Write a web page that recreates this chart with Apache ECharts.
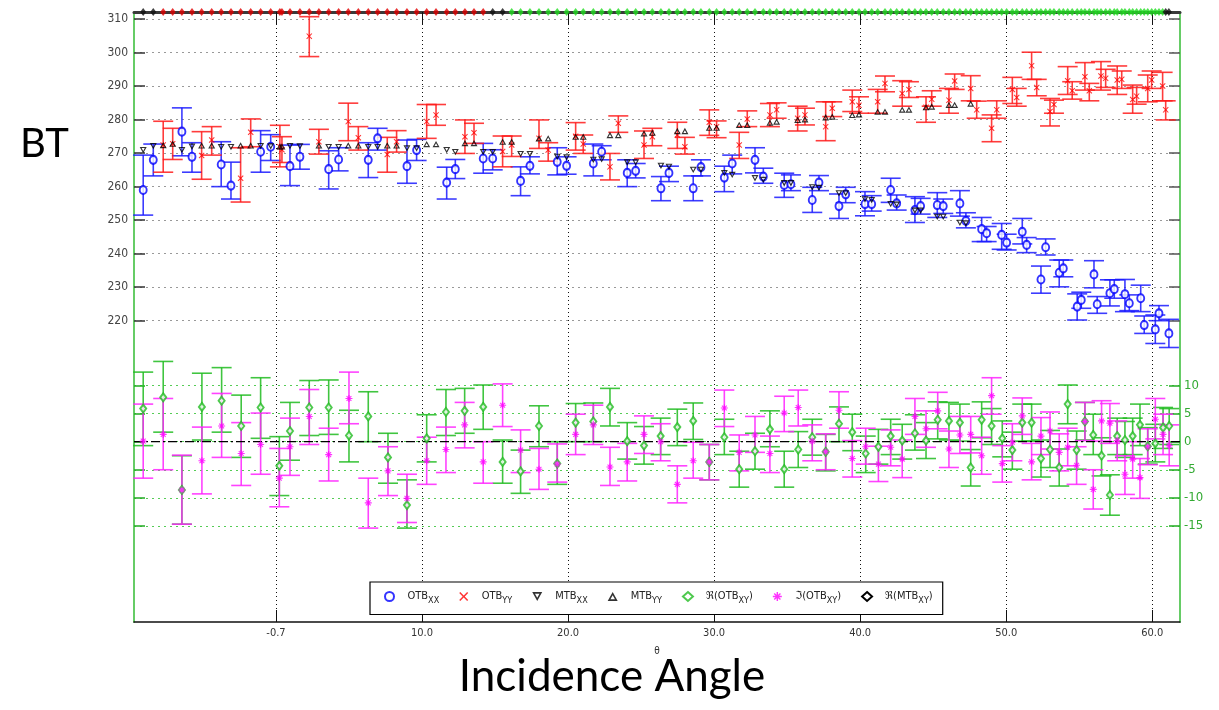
<!DOCTYPE html>
<html>
<head>
<meta charset="utf-8">
<title>BT vs Incidence Angle</title>
<script src="https://cdn.jsdelivr.net/npm/echarts@6.0.0/dist/echarts.min.js"></script>
<style>
  html, body { margin: 0; padding: 0; background: #fff; }
  #main { width: 1219px; height: 710px; }
</style>
</head>
<body>
<div id="main"></div>
<script>
// axis ranges and ticks
var thetaRange = [-9.72, 61.9];
var btRange = [130.1, 312.1];
var xyRange = [-32.13, 76.57];
var xTicks = [0, 10, 20, 30, 40, 50, 60];
var xTickLabels = ['-0.7', '10.0', '20.0', '30.0', '40.0', '50.0', '60.0'];
var btTicks = [220, 230, 240, 250, 260, 270, 280, 290, 300, 310];
var xyTicks = [-15, -10, -5, 0, 5, 10];

// [theta, value, low, high]
var otbXX = [
  [-9.09,259.0,251.5,269.4],[-8.40,268.0,263.2,272.7],[-6.44,276.4,269.2,283.5],[-5.75,268.9,264.3,273.1],
  [-3.75,266.6,260.0,273.4],[-3.08,260.3,256.3,267.3],[-1.05,270.4,264.3,276.7],[-0.36,271.9,267.8,275.5],
  [0.96,266.1,260.3,272.4],[1.64,268.9,265.2,272.6],[3.61,265.2,259.3,270.7],[4.29,268.1,264.7,271.6],
  [6.32,268.0,262.7,273.1],[6.96,274.4,270.9,277.4],[8.97,266.1,261.0,273.9],[9.63,270.9,267.8,274.1],
  [11.69,261.2,256.3,265.8],[12.28,265.2,262.4,268.1],[14.19,268.4,264.0,272.9],[14.84,268.4,265.0,271.0],
  [16.75,261.7,257.3,265.9],[17.39,266.2,263.8,268.9],[19.26,267.4,263.5,271.6],[19.90,266.2,263.7,268.9],
  [21.73,266.9,263.2,272.7],[22.30,270.4,268.0,272.2],[24.05,264.1,260.0,268.0],[24.63,264.7,262.6,266.9],
  [26.36,259.5,255.8,263.0],[26.91,264.1,261.5,266.1],[28.57,259.5,255.8,263.2],[29.10,265.8,263.2,268.0],
  [30.70,262.7,258.5,266.1],[31.24,266.9,263.8,269.4],[32.80,268.0,264.1,271.6],[33.37,263.0,261.0,265.5],
  [34.80,260.5,256.8,264.0],[35.26,260.7,258.8,263.5],[36.72,256.0,252.3,259.8],[37.18,261.2,258.8,263.3],
  [38.55,254.2,250.5,257.8],[39.01,257.7,255.2,259.8],[40.33,254.8,251.3,258.5],[40.79,254.8,252.7,257.3],
  [42.09,259.0,255.3,262.5],[42.50,255.0,253.0,257.5],[43.75,253.0,249.3,257.0],[44.14,254.2,251.8,256.5],
  [45.28,254.5,250.8,258.2],[45.69,254.2,252.0,256.3],[46.83,255.0,251.2,258.8],[47.24,249.8,247.7,252.2],
  [48.32,247.3,243.6,250.8],[48.66,246.1,243.6,248.1],[49.69,245.6,241.3,249.0],[50.03,243.3,241.1,245.8],
  [51.10,246.5,242.9,250.5],[51.40,242.6,240.3,244.8],[52.38,232.3,228.2,236.3],[52.70,241.9,239.6,244.4],
  [53.63,234.3,230.1,238.1],[53.91,235.6,233.1,238.1],[54.86,224.2,220.2,228.0],[55.14,226.2,223.7,228.5],
  [56.01,233.8,229.8,237.9],[56.23,224.9,222.2,227.2],[57.10,228.2,224.4,232.2],[57.40,229.4,226.7,232.2],
  [58.13,227.9,222.7,232.3],[58.43,225.2,223.0,227.7],[59.21,226.7,222.7,230.6],[59.45,218.7,216.2,221.4],
  [60.21,217.4,213.2,221.7],[60.46,222.2,220.0,224.5],[61.14,216.2,212.0,220.4]
];

var otbYY = [
  [-7.72,272.4,264.3,279.5],[-7.07,272.8,268.1,277.4],[-5.09,269.3,262.2,276.4],[-4.40,273.9,269.4,277.9],
  [-2.42,262.5,255.4,271.6],[-1.73,276.2,271.9,280.2],[0.27,271.9,265.9,278.3],[0.41,271.0,267.2,274.9],
  [2.28,304.9,298.8,310.7],[2.94,273.4,269.7,277.1],[4.95,279.4,273.7,284.9],[5.64,274.6,270.9,277.9],
  [7.62,269.6,264.3,274.7],[8.26,273.4,270.3,276.7],[10.32,279.4,274.4,284.5],[10.96,281.4,278.3,284.5],
  [12.94,274.9,269.9,279.9],[13.56,276.1,272.9,278.9],[15.52,270.5,265.9,275.1],[16.14,272.4,269.0,275.1],
  [18.01,274.4,271.4,279.9],[18.64,270.9,267.6,273.1],[20.52,275.0,270.9,279.1],[21.04,272.7,269.9,275.4],
  [22.87,265.9,262.0,269.9],[23.44,278.9,276.2,281.1],[25.20,272.4,268.4,276.6],[25.77,274.9,272.2,277.4],
  [27.48,275.4,271.4,279.2],[28.00,271.9,269.7,274.7],[29.67,279.2,275.3,282.9],[30.17,277.9,274.6,279.6],
  [31.72,272.4,268.4,276.2],[32.27,280.2,277.9,282.6],[33.82,281.4,277.9,284.8],[34.28,282.9,280.4,285.0],
  [35.72,280.4,276.6,284.0],[36.22,281.4,278.4,283.4],[37.64,277.9,273.7,285.3],[38.09,283.4,280.9,285.3],
  [39.46,285.3,282.4,288.8],[39.92,284.3,281.9,286.8],[41.20,285.3,281.9,289.0],[41.70,290.8,288.3,293.0],
  [42.88,287.8,284.0,291.6],[43.34,289.0,286.6,291.3],[44.51,283.7,279.2,286.8],[44.90,286.1,284.0,288.6],
  [46.08,285.8,281.9,289.3],[46.47,291.5,289.0,293.6],[47.57,289.3,285.6,293.1],[47.98,282.9,280.4,285.5],
  [49.00,277.4,273.4,281.4],[49.35,282.9,280.4,285.6],[50.42,289.0,284.8,292.6],[50.72,286.6,284.0,289.3],
  [51.74,296.1,292.0,300.1],[52.09,289.6,287.1,292.0],[53.00,282.4,278.1,286.3],[53.27,284.5,281.9,285.8],
  [54.21,291.6,287.5,295.8],[54.52,288.6,286.1,291.3],[55.39,292.8,288.8,297.0],[55.69,288.6,285.6,290.8],
  [56.49,293.0,288.8,297.3],[56.81,292.3,289.6,295.0],[57.60,291.8,287.5,296.0],[57.91,292.0,289.3,294.5],
  [58.66,286.0,281.9,290.3],[58.93,287.0,284.6,289.6],[59.69,289.3,285.3,293.3],[59.96,291.8,289.3,294.5],
  [60.71,290.0,285.6,294.1],[60.92,282.9,279.9,285.6]
];

// [theta, value]
var mtbXX = [
  [-9.09,270.9],[-8.40,272.1],[-6.44,270.9],[-5.75,271.9],[-3.75,271.8],[-3.08,271.8],[-1.05,272.1],[-0.36,272.0],
  [0.96,272.1],[1.64,272.0],[3.61,271.8],[4.29,271.8],[6.32,271.8],[6.96,271.8],[8.97,271.4],[9.63,271.4],
  [11.69,270.9],[12.28,270.3],[14.19,270.3],[14.84,270.3],[16.75,269.7],[17.39,269.7],[19.26,268.9],[19.90,268.7],
  [21.73,268.0],[22.30,268.1],[24.05,267.2],[24.63,267.2],[26.36,266.2],[26.91,265.9],[28.57,265.0],[29.10,265.0],
  [30.70,264.0],[31.24,263.5],[32.80,262.5],[33.37,262.0],[34.80,261.0],[35.26,261.0],[36.72,259.8],[37.18,259.6],
  [38.55,258.0],[39.01,258.0],[40.33,256.2],[40.79,256.0],[42.09,254.8],[42.50,254.6],[43.75,252.8],[44.14,252.8],
  [45.28,251.0],[45.69,251.0],[46.83,249.2],[47.24,249.0]
];

var mtbYY = [
  [-7.72,272.4],[-7.07,272.8],[-5.09,272.3],[-4.40,272.3],[-2.42,272.3],[-1.73,272.3],[0.27,272.0],[0.41,272.0],
  [2.94,272.3],[4.95,272.3],[5.64,272.3],[7.62,272.3],[8.26,272.3],[10.32,272.7],[10.96,272.7],[12.94,273.0],
  [13.56,273.0],[15.52,273.4],[16.14,273.4],[18.01,274.4],[18.64,274.4],[20.52,274.9],[21.04,274.9],[22.87,275.4],
  [23.44,275.4],[25.20,275.9],[25.77,276.1],[27.48,276.6],[28.00,276.6],[29.67,277.6],[30.17,277.6],[31.72,278.4],
  [32.27,278.4],[33.82,279.1],[34.28,279.4],[35.72,279.9],[36.22,280.1],[37.64,280.7],[38.09,280.9],[39.46,281.4],
  [39.92,281.6],[41.20,282.4],[41.70,282.4],[42.88,283.0],[43.34,283.0],[44.51,283.7],[44.90,283.9],[46.08,284.4],
  [46.47,284.4],[47.57,284.8]
];

// cross-polar terms (right axis) [theta, value, low, high]
var reOtbXY = [
  [-9.09,5.9,-0.7,12.4],[-7.72,7.9,1.7,14.3],[-6.44,-8.6,-14.7,-2.5],[-5.07,6.2,0.3,12.2],[-3.72,7.3,1.7,13.2],
  [-2.38,2.8,-2.8,8.3],[-1.05,6.1,0.6,11.4],[0.23,-4.3,-9.6,0.9],[0.96,1.9,-3.3,7.0],[2.28,6.1,1.1,10.9],
  [3.61,6.1,1.3,11.0],[5.00,1.1,-3.6,5.6],[6.32,4.5,0.0,8.9],[7.67,-2.8,-7.4,1.5],[8.97,-11.3,-15.4,-6.8],
  [10.32,0.6,-3.6,4.8],[11.64,5.3,1.1,9.3],[12.92,5.5,1.5,9.5],[14.19,6.2,2.2,10.1],[15.52,-3.6,-7.4,0.3],
  [16.75,-5.3,-9.2,-1.5],[18.01,2.8,-0.9,6.4],[19.26,-3.9,-7.6,0.0],[20.52,3.4,0.0,6.8],[21.73,3.6,0.0,6.9],
  [22.87,6.2,2.8,9.5],[24.05,0.1,-3.1,3.4],[25.20,-0.7,-4.0,2.7],[26.34,1.0,-2.3,4.2],[27.48,2.6,-0.7,5.8],
  [28.57,3.7,0.4,6.9],[29.67,-3.6,-6.8,-0.5],[30.70,0.8,-2.3,4.0],[31.72,-4.9,-8.1,-1.7],[32.80,-1.7,-4.9,1.5],
  [33.82,2.2,-0.9,5.5],[34.80,-4.9,-8.1,-1.7],[35.76,-1.4,-4.6,1.8],[36.72,0.8,-2.4,4.0],[37.64,-1.8,-5.2,1.3],
  [38.55,3.2,0.0,6.2],[39.46,1.7,-1.6,4.9],[40.38,-2.1,-5.5,1.0],[41.25,-0.9,-4.0,2.2],[42.09,1.0,-2.3,4.0],
  [42.88,0.2,-3.1,3.1],[43.75,1.5,-1.5,4.8],[44.51,0.2,-3.0,3.4],[45.31,3.9,0.5,7.1],[46.08,3.7,0.3,7.0],
  [46.83,3.4,0.1,6.7],[47.57,-4.6,-7.9,-1.4],[48.32,3.9,0.7,7.1],[49.00,2.8,-0.5,5.9],[49.73,0.6,-2.7,3.7],
  [50.42,-1.5,-4.9,1.7],[51.10,3.4,0.1,6.7],[51.74,3.4,0.1,6.7],[52.38,-3.0,-6.3,0.3],[53.00,-1.4,-4.6,2.0],
  [53.63,-4.6,-7.9,-1.3],[54.21,6.7,3.2,10.1],[54.82,-1.5,-4.9,1.9],[55.39,3.6,0.3,7.0],[55.96,1.2,-2.3,4.9],
  [56.53,-2.5,-6.1,0.7],[57.10,-9.5,-13.1,-5.9],[57.60,1.0,-2.3,4.2],[58.13,0.3,-2.8,3.6],[58.66,1.0,-2.3,4.2],
  [59.16,3.0,-0.7,6.7],[59.69,-0.8,-4.0,2.5],[60.21,-0.3,-3.6,3.1],[60.74,2.5,-1.2,6.1],[61.16,2.8,-0.5,5.9]
];

var imOtbXY = [
  [-9.09,0.1,-6.5,6.7],[-7.72,1.3,-5.0,7.7],[-6.44,-8.6,-14.7,-2.4],[-5.07,-3.4,-9.3,2.6],[-3.72,2.8,-2.8,8.6],
  [-2.38,-2.1,-7.8,3.4],[-1.05,-0.5,-5.8,5.1],[0.23,-6.5,-11.6,-1.2],[0.96,-0.9,-6.0,4.2],[2.28,4.5,-0.5,9.3],
  [3.61,-2.3,-7.0,2.4],[5.00,7.7,3.2,12.4],[6.32,-10.9,-15.4,-6.5],[7.67,-5.2,-9.6,-0.9],[8.97,-10.1,-14.4,-5.8],
  [10.32,-3.4,-7.6,0.8],[11.64,-1.4,-5.5,2.6],[12.92,3.0,-1.1,7.0],[14.19,-3.6,-7.4,0.0],[15.52,6.5,2.7,10.3],
  [16.75,-1.5,-5.5,2.1],[18.01,-4.9,-8.5,-1.2],[19.26,-4.0,-7.2,-0.4],[20.52,1.3,-2.3,4.9],[21.73,3.0,-0.5,6.5],
  [22.87,-4.5,-7.8,-1.0],[24.05,-3.6,-7.0,-0.3],[25.20,1.3,-2.1,4.6],[26.34,0.0,-3.4,3.2],[27.48,-7.6,-10.9,-4.3],
  [28.57,-3.4,-6.5,-0.1],[29.67,-3.6,-6.8,-0.5],[30.70,6.0,2.7,9.2],[31.72,-1.9,-5.2,1.2],[32.80,1.2,-1.9,4.5],
  [33.82,-2.1,-5.5,1.0],[34.80,5.1,1.8,8.1],[35.76,6.1,2.8,9.2],[36.72,0.1,-3.4,3.0],[37.64,-1.8,-5.0,1.4],
  [38.55,5.6,2.4,8.9],[39.46,-3.0,-6.3,0.2],[40.38,-0.9,-4.0,2.4],[41.25,-4.0,-7.1,-0.8],[42.09,-1.0,-4.3,2.1],
  [42.88,-3.1,-6.4,0.3],[43.75,4.5,1.3,7.7],[44.51,2.3,-1.0,5.5],[45.31,5.5,2.3,8.8],[46.08,-1.3,-4.6,1.9],
  [46.83,1.2,-2.1,4.5],[47.57,1.3,-2.0,4.5],[48.32,-2.5,-5.8,0.8],[49.00,8.2,4.9,11.4],[49.73,-3.9,-7.2,-0.7],
  [50.42,-0.1,-3.4,3.2],[51.10,4.6,1.3,7.8],[51.74,-3.6,-6.8,-0.3],[52.38,1.0,-2.3,4.3],[53.00,1.9,-1.3,5.3],
  [53.63,-1.9,-5.2,1.4],[54.21,-1.0,-4.3,2.4],[54.82,-4.2,-7.6,-0.9],[55.39,3.6,0.2,7.0],[55.96,-8.5,-12.0,-5.0],
  [56.53,3.7,0.1,7.3],[57.10,3.3,-0.3,6.8],[57.60,0.2,-3.4,3.7],[58.13,-5.8,-9.4,-2.5],[58.66,-3.1,-6.5,0.0],
  [59.16,-6.4,-10.1,-3.0],[59.69,-0.9,-4.1,2.3],[60.21,4.0,0.5,7.7],[60.74,1.3,-2.3,4.9],[61.16,-0.7,-4.3,3.0]
];

// Re(MTB_XY): zero across the whole angle range
var reMtbXY = [[-9.72, 0], [61.9, 0]];

// flag markers on the top border
var flagBlack = [-9.09, -8.40, 14.84, 15.52, 60.92, 61.14];
var flagSplit = 15.2;

var FONT = "'DejaVu Sans Condensed', 'Liberation Sans Narrow', 'Liberation Sans', sans-serif";
var CROSS = 'path://M0,1.2L1.2,0L5,3.8L8.8,0L10,1.2L6.2,5L10,8.8L8.8,10L5,6.2L1.2,10L0,8.8L3.8,5Z';
var STAR = 'path://M4.2,0L5.8,0L5.8,10L4.2,10Z M0,4.2L10,4.2L10,5.8L0,5.8Z M1,2.1L2.1,1L9,7.9L7.9,9Z M7.9,1L9,2.1L2.1,9L1,7.9Z';
// hollow triangles (outer clockwise, inner reversed)
var TRI_DOWN = 'path://M0,0L10,0L5,9Z M2.75,1.65L5,5.7L7.25,1.65Z';
var TRI_UP = 'path://M5,0L10,9L0,9Z M5,3.3L2.75,7.35L7.25,7.35Z';

function errorBars(name, data, color, yAxisIndex) {
  return {
    name: name, type: 'custom', yAxisIndex: yAxisIndex, silent: true, z: 2,
    encode: { x: 0, y: [2, 3] },
    data: data,
    renderItem: function (params, api) {
      var x = api.value(0);
      var a = api.coord([x, api.value(2)]);
      var b = api.coord([x, api.value(3)]);
      var hw = 10;
      var st = { stroke: color, lineWidth: 1.6, opacity: 0.85 };
      return { type: 'group', children: [
        { type: 'line', shape: { x1: a[0], y1: a[1], x2: b[0], y2: b[1] }, style: st },
        { type: 'line', shape: { x1: a[0] - hw, y1: a[1], x2: a[0] + hw, y2: a[1] }, style: st },
        { type: 'line', shape: { x1: b[0] - hw, y1: b[1], x2: b[0] + hw, y2: b[1] }, style: st }
      ]};
    }
  };
}

function pts(arr) { return arr.map(function (d) { return [d[0], d[1]]; }); }

var flagData = otbXX.map(function (d) { return d[0]; })
  .concat(otbYY.map(function (d) { return d[0]; }))
  .sort(function (a, b) { return a - b; })
  .map(function (t) {
    var c = flagBlack.indexOf(t) >= 0 ? '#111' : (t < flagSplit ? '#e00000' : '#22dd22');
    return { value: [t, btRange[1]], itemStyle: { color: c } };
  });

var chart = echarts.init(document.getElementById('main'));

chart.setOption({
  animation: false,
  backgroundColor: '#fff',
  grid: { left: 134, right: 39, top: 12, bottom: 88, outerBoundsMode: 'none' },
  legend: {
    data: ['OTB_XX', 'OTB_YY', 'MTB_XX', 'MTB_YY', 'ℜ(OTB_XY)', 'ℑ(OTB_XY)',
      { name: 'ℜ(MTB_XY)', icon: 'emptyDiamond' }],
    left: 370, top: 582,
    padding: [9, 10, 9, 14],
    itemWidth: 10, itemHeight: 9, itemGap: 20,
    borderColor: '#000', borderWidth: 1.2, backgroundColor: '#fff',
    textStyle: {
      fontSize: 11, color: '#222', fontFamily: FONT,
      rich: {
        g: { width: 8 },
        s: { fontSize: 9, fontFamily: FONT, color: '#222', padding: [9, 0, 0, 0] }
      }
    },
    formatter: function (name) { return '{g|}' + name.replace(/_(\w+)/, '{s|$1}'); }
  },
  graphic: [
    { type: 'text', x: 20, y: 124, style: { text: 'BT', font: '40px Lato', fill: '#000' } },
    { type: 'text', x: 612, y: 655, style: { text: 'Incidence Angle', font: '44px Lato', fill: '#000', textAlign: 'center' } }
  ],
  xAxis: [
    {
      type: 'value', min: thetaRange[0], max: thetaRange[1], position: 'bottom',
      name: 'θ', nameLocation: 'middle', nameGap: 24,
      nameTextStyle: { fontSize: 10, color: '#333', fontFamily: FONT },
      axisLine: { onZero: false, lineStyle: { color: '#111', width: 1.5 } },
      axisTick: { inside: true, length: 12, customValues: xTicks, lineStyle: { color: '#111' } },
      axisLabel: {
        customValues: xTicks, color: '#333', fontSize: 11, margin: 6, fontFamily: FONT,
        formatter: function (v) { var i = xTicks.indexOf(v); return i >= 0 ? xTickLabels[i] : ''; }
      },
      splitLine: { show: true, lineStyle: { color: '#111', type: [1, 3], width: 1 } }
    },
    {
      type: 'value', min: thetaRange[0], max: thetaRange[1], position: 'top',
      axisLine: { onZero: false, lineStyle: { color: '#3a3a3a', width: 3 } },
      axisTick: { inside: true, length: 12, customValues: xTicks, lineStyle: { color: '#111' } },
      axisLabel: { show: false },
      splitLine: { show: false }
    }
  ],
  yAxis: [
    {
      type: 'value', min: btRange[0], max: btRange[1], position: 'left',
      axisLine: { show: true, onZero: false, lineStyle: { color: '#66cc66', width: 2 } },
      axisTick: { show: true, inside: true, length: 11, customValues: btTicks, lineStyle: { color: '#333', width: 1.5 } },
      axisLabel: { customValues: btTicks, color: '#444', fontSize: 12, margin: 6, fontFamily: FONT },
      splitLine: { show: true, lineStyle: { color: '#999', type: [2, 4], width: 1 } }
    },
    {
      type: 'value', min: xyRange[0], max: xyRange[1], position: 'right',
      axisLine: { show: true, onZero: false, lineStyle: { color: '#66cc66', width: 2 } },
      axisTick: { show: true, inside: true, length: 11, customValues: xyTicks, lineStyle: { color: '#22aa22', width: 1.5 } },
      axisLabel: { customValues: xyTicks, color: '#33aa33', fontSize: 13, margin: 4, fontFamily: FONT },
      splitLine: { show: true, lineStyle: { color: '#55cc55', type: [2, 4], width: 1 } }
    },
    {
      type: 'value', min: btRange[0], max: btRange[1], position: 'right',
      axisLine: { show: false, onZero: false },
      axisTick: { show: true, inside: true, length: 11, customValues: btTicks, lineStyle: { color: '#555', width: 1.5 } },
      axisLabel: { show: false }, splitLine: { show: false }
    },
    {
      type: 'value', min: xyRange[0], max: xyRange[1], position: 'left',
      axisLine: { show: false, onZero: false },
      axisTick: { show: true, inside: true, length: 11, customValues: xyTicks, lineStyle: { color: '#22aa22', width: 1.5 } },
      axisLabel: { show: false }, splitLine: { show: false }
    }
  ],
  series: [
    errorBars('OTB_XX err', otbXX, '#1a1aff', 0),
    errorBars('OTB_YY err', otbYY, '#ff1a1a', 0),
    errorBars('ReOTB err', reOtbXY, '#1fbb1f', 1),
    errorBars('ImOTB err', imOtbXY, '#ff22ff', 1),
    {
      name: 'ℜ(MTB_XY)', type: 'line', yAxisIndex: 1, data: reMtbXY, showSymbol: false,
      symbol: 'emptyDiamond', z: 3,
      itemStyle: { color: '#000' },
      lineStyle: { color: '#000', width: 1.2, type: [9, 3, 2, 3] }
    },
    {
      name: 'OTB_XX', type: 'scatter', data: pts(otbXX), symbol: 'emptyCircle', symbolSize: [7, 8], z: 4,
      itemStyle: { color: '#0000ff', borderWidth: 1.2 }
    },
    {
      name: 'OTB_YY', type: 'scatter', data: pts(otbYY), symbol: CROSS, symbolSize: 6, z: 4,
      itemStyle: { color: '#ff0000' }
    },
    {
      name: 'MTB_XX', type: 'scatter', data: mtbXX, symbol: TRI_DOWN, symbolSize: [7, 6.3], z: 5,
      itemStyle: { color: '#000' }
    },
    {
      name: 'MTB_YY', type: 'scatter', data: mtbYY, symbol: TRI_UP, symbolSize: [7, 6.3], z: 5,
      itemStyle: { color: '#000' }
    },
    {
      name: 'ℜ(OTB_XY)', type: 'scatter', yAxisIndex: 1, data: pts(reOtbXY), symbol: 'emptyDiamond', symbolSize: [6, 8], z: 4,
      itemStyle: { color: '#22bb22', borderWidth: 1.1 }
    },
    {
      name: 'ℑ(OTB_XY)', type: 'scatter', yAxisIndex: 1, data: pts(imOtbXY), symbol: STAR, symbolSize: 7, z: 4,
      itemStyle: { color: '#ff00ff' }
    },
    {
      name: 'flags', type: 'scatter', data: flagData, symbol: 'diamond', symbolSize: [6, 8], z: 6, silent: true
    }
  ]
});
</script>
</body>
</html>
